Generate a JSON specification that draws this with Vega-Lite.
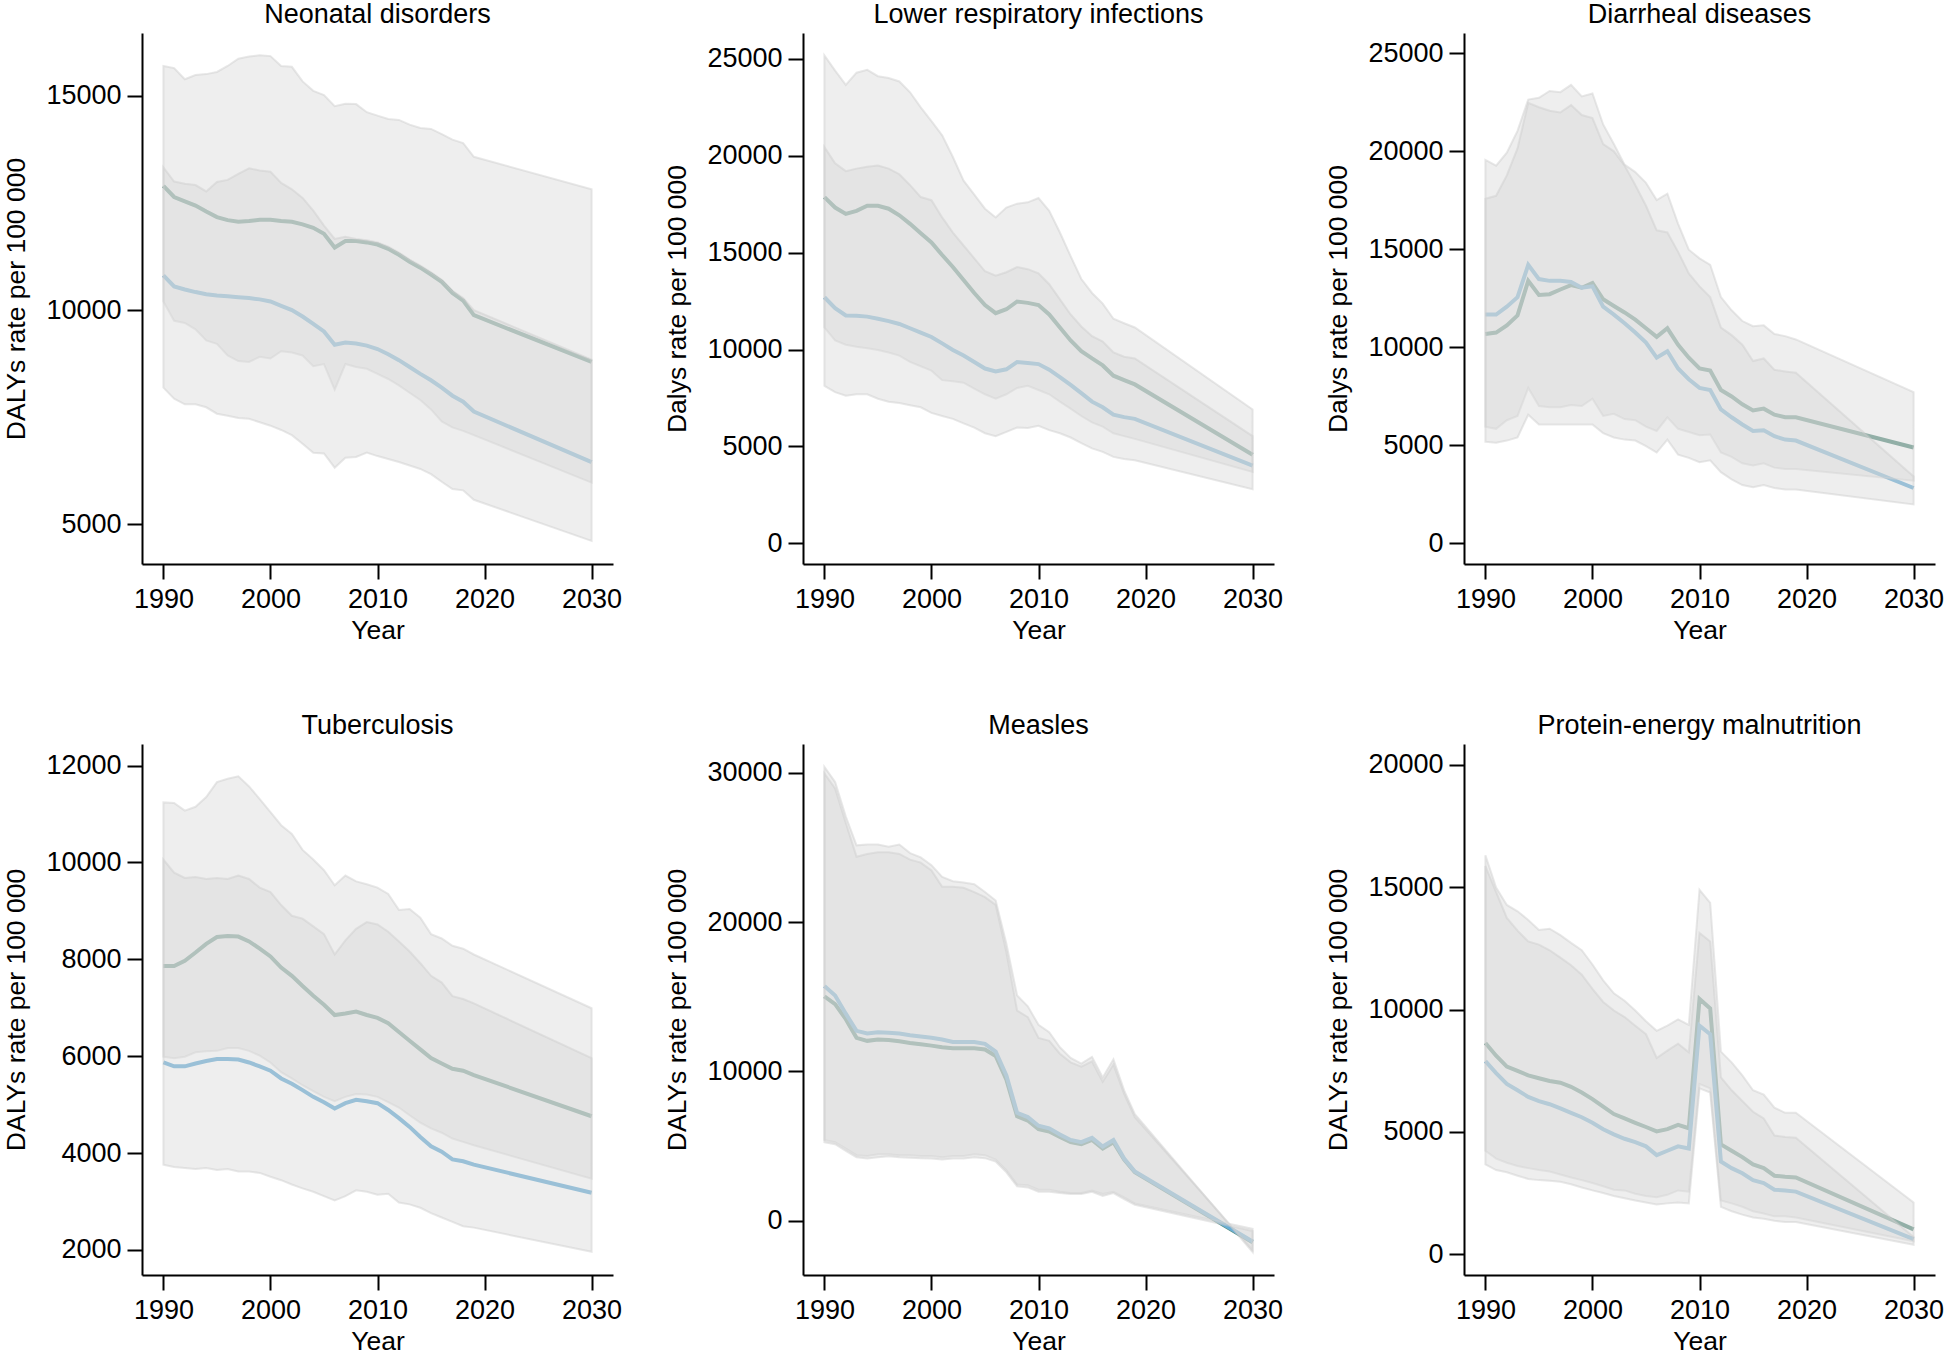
{
"$schema": "https://vega.github.io/schema/vega-lite/v6.json",
"background": "white",
"padding": {"left": 3, "top": 0, "right": 0, "bottom": 0},
"config": {
  "font": "Liberation Sans",
  "view": {"stroke": null},
  "axis": {"domainColor": "black", "domainWidth": 2, "tickColor": "black", "tickWidth": 2, "tickSize": 15, "labelColor": "black", "labelFontSize": 27, "titleFontSize": 26.5, "titleFontWeight": "normal", "titleColor": "black", "grid": false},
  "axisX": {"labelPadding": 7, "titlePadding": 5},
  "axisY": {"labelPadding": 6, "titlePadding": 15, "labelAngle": 0},
  "title": {"fontSize": 27, "fontWeight": "normal", "color": "black", "anchor": "middle", "offset": 4.5, "frame": "group"}
},
"data": {"values": [
{"p":1,"s":"A","y":1990,"m":12900,"l":10200,"u":15700},
{"p":1,"s":"A","y":1991,"m":12640,"l":9750,"u":15650},
{"p":1,"s":"A","y":1992,"m":12540,"l":9700,"u":15390},
{"p":1,"s":"A","y":1993,"m":12440,"l":9550,"u":15490},
{"p":1,"s":"A","y":1994,"m":12300,"l":9290,"u":15510},
{"p":1,"s":"A","y":1995,"m":12170,"l":9210,"u":15560},
{"p":1,"s":"A","y":1996,"m":12100,"l":8940,"u":15700},
{"p":1,"s":"A","y":1997,"m":12060,"l":8810,"u":15870},
{"p":1,"s":"A","y":1998,"m":12080,"l":8790,"u":15920},
{"p":1,"s":"A","y":1999,"m":12110,"l":8910,"u":15950},
{"p":1,"s":"A","y":2000,"m":12110,"l":8870,"u":15930},
{"p":1,"s":"A","y":2001,"m":12080,"l":9040,"u":15700},
{"p":1,"s":"A","y":2002,"m":12060,"l":9010,"u":15680},
{"p":1,"s":"A","y":2003,"m":12000,"l":8940,"u":15340},
{"p":1,"s":"A","y":2004,"m":11920,"l":8690,"u":15120},
{"p":1,"s":"A","y":2005,"m":11780,"l":8740,"u":15020},
{"p":1,"s":"A","y":2006,"m":11460,"l":8140,"u":14760},
{"p":1,"s":"A","y":2007,"m":11610,"l":8740,"u":14820},
{"p":1,"s":"A","y":2008,"m":11610,"l":8670,"u":14810},
{"p":1,"s":"A","y":2009,"m":11580,"l":8630,"u":14620},
{"p":1,"s":"A","y":2010,"m":11530,"l":8510,"u":14540},
{"p":1,"s":"A","y":2011,"m":11430,"l":8390,"u":14460},
{"p":1,"s":"A","y":2012,"m":11290,"l":8240,"u":14440},
{"p":1,"s":"A","y":2013,"m":11130,"l":8070,"u":14330},
{"p":1,"s":"A","y":2014,"m":10990,"l":7900,"u":14250},
{"p":1,"s":"A","y":2015,"m":10830,"l":7680,"u":14230},
{"p":1,"s":"A","y":2016,"m":10660,"l":7400,"u":14110},
{"p":1,"s":"A","y":2017,"m":10400,"l":7260,"u":13980},
{"p":1,"s":"A","y":2018,"m":10220,"l":7180,"u":13900},
{"p":1,"s":"A","y":2019,"m":9880,"l":7080,"u":13580},
{"p":1,"s":"A","y":2030,"m":8790,"l":5970,"u":12820},
{"p":1,"s":"B","y":1990,"m":10810,"l":8190,"u":13330},
{"p":1,"s":"B","y":1991,"m":10550,"l":7930,"u":13000},
{"p":1,"s":"B","y":1992,"m":10480,"l":7800,"u":12950},
{"p":1,"s":"B","y":1993,"m":10420,"l":7800,"u":12920},
{"p":1,"s":"B","y":1994,"m":10370,"l":7730,"u":12770},
{"p":1,"s":"B","y":1995,"m":10340,"l":7580,"u":12990},
{"p":1,"s":"B","y":1996,"m":10320,"l":7530,"u":13040},
{"p":1,"s":"B","y":1997,"m":10300,"l":7480,"u":13180},
{"p":1,"s":"B","y":1998,"m":10280,"l":7460,"u":13310},
{"p":1,"s":"B","y":1999,"m":10250,"l":7380,"u":13260},
{"p":1,"s":"B","y":2000,"m":10200,"l":7300,"u":13230},
{"p":1,"s":"B","y":2001,"m":10100,"l":7200,"u":12970},
{"p":1,"s":"B","y":2002,"m":10000,"l":7080,"u":12820},
{"p":1,"s":"B","y":2003,"m":9850,"l":6880,"u":12620},
{"p":1,"s":"B","y":2004,"m":9680,"l":6670,"u":12320},
{"p":1,"s":"B","y":2005,"m":9500,"l":6650,"u":11970},
{"p":1,"s":"B","y":2006,"m":9190,"l":6320,"u":11660},
{"p":1,"s":"B","y":2007,"m":9240,"l":6550,"u":11710},
{"p":1,"s":"B","y":2008,"m":9220,"l":6570,"u":11660},
{"p":1,"s":"B","y":2009,"m":9170,"l":6670,"u":11630},
{"p":1,"s":"B","y":2010,"m":9090,"l":6590,"u":11580},
{"p":1,"s":"B","y":2011,"m":8970,"l":6520,"u":11480},
{"p":1,"s":"B","y":2012,"m":8830,"l":6450,"u":11340},
{"p":1,"s":"B","y":2013,"m":8670,"l":6370,"u":11180},
{"p":1,"s":"B","y":2014,"m":8510,"l":6290,"u":11040},
{"p":1,"s":"B","y":2015,"m":8360,"l":6170,"u":10880},
{"p":1,"s":"B","y":2016,"m":8190,"l":5990,"u":10710},
{"p":1,"s":"B","y":2017,"m":8000,"l":5820,"u":10450},
{"p":1,"s":"B","y":2018,"m":7860,"l":5790,"u":10280},
{"p":1,"s":"B","y":2019,"m":7630,"l":5570,"u":10000},
{"p":1,"s":"B","y":2030,"m":6450,"l":4610,"u":8840},
{"p":2,"s":"A","y":1990,"m":17870,"l":11140,"u":25180},
{"p":2,"s":"A","y":1991,"m":17330,"l":10470,"u":24400},
{"p":2,"s":"A","y":1992,"m":17000,"l":10250,"u":23660},
{"p":2,"s":"A","y":1993,"m":17160,"l":10140,"u":24290},
{"p":2,"s":"A","y":1994,"m":17420,"l":10070,"u":24440},
{"p":2,"s":"A","y":1995,"m":17420,"l":9980,"u":24110},
{"p":2,"s":"A","y":1996,"m":17270,"l":9850,"u":24020},
{"p":2,"s":"A","y":1997,"m":16930,"l":9690,"u":23840},
{"p":2,"s":"A","y":1998,"m":16490,"l":9360,"u":23280},
{"p":2,"s":"A","y":1999,"m":16000,"l":9140,"u":22500},
{"p":2,"s":"A","y":2000,"m":15530,"l":8910,"u":21790},
{"p":2,"s":"A","y":2001,"m":14880,"l":8420,"u":21060},
{"p":2,"s":"A","y":2002,"m":14260,"l":8360,"u":19940},
{"p":2,"s":"A","y":2003,"m":13590,"l":8290,"u":18720},
{"p":2,"s":"A","y":2004,"m":12920,"l":7980,"u":18000},
{"p":2,"s":"A","y":2005,"m":12300,"l":7690,"u":17270},
{"p":2,"s":"A","y":2006,"m":11880,"l":7460,"u":16820},
{"p":2,"s":"A","y":2007,"m":12080,"l":7690,"u":17330},
{"p":2,"s":"A","y":2008,"m":12480,"l":8020,"u":17530},
{"p":2,"s":"A","y":2009,"m":12410,"l":8130,"u":17600},
{"p":2,"s":"A","y":2010,"m":12300,"l":7910,"u":17820},
{"p":2,"s":"A","y":2011,"m":11810,"l":7690,"u":17160},
{"p":2,"s":"A","y":2012,"m":11140,"l":7310,"u":16040},
{"p":2,"s":"A","y":2013,"m":10470,"l":6950,"u":14820},
{"p":2,"s":"A","y":2014,"m":9920,"l":6570,"u":13640},
{"p":2,"s":"A","y":2015,"m":9540,"l":6240,"u":12920},
{"p":2,"s":"A","y":2016,"m":9180,"l":6020,"u":12370},
{"p":2,"s":"A","y":2017,"m":8650,"l":5680,"u":11590},
{"p":2,"s":"A","y":2018,"m":8420,"l":5530,"u":11360},
{"p":2,"s":"A","y":2019,"m":8200,"l":5390,"u":11140},
{"p":2,"s":"A","y":2030,"m":4570,"l":3680,"u":6910},
{"p":2,"s":"B","y":1990,"m":12700,"l":8130,"u":20450},
{"p":2,"s":"B","y":1991,"m":12140,"l":7800,"u":19610},
{"p":2,"s":"B","y":1992,"m":11760,"l":7620,"u":19210},
{"p":2,"s":"B","y":1993,"m":11740,"l":7690,"u":19340},
{"p":2,"s":"B","y":1994,"m":11700,"l":7690,"u":19430},
{"p":2,"s":"B","y":1995,"m":11590,"l":7460,"u":19500},
{"p":2,"s":"B","y":1996,"m":11470,"l":7310,"u":19340},
{"p":2,"s":"B","y":1997,"m":11320,"l":7240,"u":19050},
{"p":2,"s":"B","y":1998,"m":11100,"l":7130,"u":18490},
{"p":2,"s":"B","y":1999,"m":10870,"l":7020,"u":17870},
{"p":2,"s":"B","y":2000,"m":10650,"l":6730,"u":17710},
{"p":2,"s":"B","y":2001,"m":10320,"l":6570,"u":16820},
{"p":2,"s":"B","y":2002,"m":9980,"l":6420,"u":16040},
{"p":2,"s":"B","y":2003,"m":9690,"l":6190,"u":15370},
{"p":2,"s":"B","y":2004,"m":9360,"l":5970,"u":14710},
{"p":2,"s":"B","y":2005,"m":9020,"l":5680,"u":14040},
{"p":2,"s":"B","y":2006,"m":8870,"l":5530,"u":13810},
{"p":2,"s":"B","y":2007,"m":8980,"l":5750,"u":13990},
{"p":2,"s":"B","y":2008,"m":9360,"l":5970,"u":14260},
{"p":2,"s":"B","y":2009,"m":9310,"l":5950,"u":14150},
{"p":2,"s":"B","y":2010,"m":9250,"l":6060,"u":13930},
{"p":2,"s":"B","y":2011,"m":8960,"l":5840,"u":13370},
{"p":2,"s":"B","y":2012,"m":8580,"l":5680,"u":12590},
{"p":2,"s":"B","y":2013,"m":8180,"l":5460,"u":11810},
{"p":2,"s":"B","y":2014,"m":7750,"l":5170,"u":11190},
{"p":2,"s":"B","y":2015,"m":7310,"l":4900,"u":10690},
{"p":2,"s":"B","y":2016,"m":7020,"l":4720,"u":10410},
{"p":2,"s":"B","y":2017,"m":6640,"l":4460,"u":9850},
{"p":2,"s":"B","y":2018,"m":6510,"l":4350,"u":9630},
{"p":2,"s":"B","y":2019,"m":6420,"l":4280,"u":9540},
{"p":2,"s":"B","y":2030,"m":4010,"l":2790,"u":5530},
{"p":3,"s":"A","y":1990,"m":10680,"l":5950,"u":19560},
{"p":3,"s":"A","y":1991,"m":10750,"l":5840,"u":19270},
{"p":3,"s":"A","y":1992,"m":11120,"l":6280,"u":19930},
{"p":3,"s":"A","y":1993,"m":11630,"l":6500,"u":21040},
{"p":3,"s":"A","y":1994,"m":13390,"l":7930,"u":22640},
{"p":3,"s":"A","y":1995,"m":12670,"l":7000,"u":22730},
{"p":3,"s":"A","y":1996,"m":12710,"l":6940,"u":23080},
{"p":3,"s":"A","y":1997,"m":12950,"l":6940,"u":23020},
{"p":3,"s":"A","y":1998,"m":13170,"l":7050,"u":23390},
{"p":3,"s":"A","y":1999,"m":13040,"l":7000,"u":22800},
{"p":3,"s":"A","y":2000,"m":13280,"l":7380,"u":22950},
{"p":3,"s":"A","y":2001,"m":12450,"l":6500,"u":21370},
{"p":3,"s":"A","y":2002,"m":12110,"l":6610,"u":20370},
{"p":3,"s":"A","y":2003,"m":11780,"l":6340,"u":19320},
{"p":3,"s":"A","y":2004,"m":11410,"l":6280,"u":18940},
{"p":3,"s":"A","y":2005,"m":10970,"l":5950,"u":18390},
{"p":3,"s":"A","y":2006,"m":10530,"l":5730,"u":17510},
{"p":3,"s":"A","y":2007,"m":10970,"l":6430,"u":17840},
{"p":3,"s":"A","y":2008,"m":10130,"l":5840,"u":16300},
{"p":3,"s":"A","y":2009,"m":9470,"l":5680,"u":14980},
{"p":3,"s":"A","y":2010,"m":8920,"l":5510,"u":14540},
{"p":3,"s":"A","y":2011,"m":8810,"l":5550,"u":14210},
{"p":3,"s":"A","y":2012,"m":7820,"l":4630,"u":12560},
{"p":3,"s":"A","y":2013,"m":7490,"l":4410,"u":11890},
{"p":3,"s":"A","y":2014,"m":7090,"l":4080,"u":11340},
{"p":3,"s":"A","y":2015,"m":6780,"l":3970,"u":11080},
{"p":3,"s":"A","y":2016,"m":6870,"l":4080,"u":11120},
{"p":3,"s":"A","y":2017,"m":6560,"l":3860,"u":10680},
{"p":3,"s":"A","y":2018,"m":6430,"l":3790,"u":10570},
{"p":3,"s":"A","y":2019,"m":6430,"l":3790,"u":10400},
{"p":3,"s":"A","y":2030,"m":4890,"l":3190,"u":7710},
{"p":3,"s":"B","y":1990,"m":11670,"l":5180,"u":17580},
{"p":3,"s":"B","y":1991,"m":11670,"l":5130,"u":17730},
{"p":3,"s":"B","y":1992,"m":12070,"l":5240,"u":18770},
{"p":3,"s":"B","y":1993,"m":12560,"l":5400,"u":20150},
{"p":3,"s":"B","y":1994,"m":14210,"l":6560,"u":22470},
{"p":3,"s":"B","y":1995,"m":13480,"l":6060,"u":22250},
{"p":3,"s":"B","y":1996,"m":13390,"l":6060,"u":22070},
{"p":3,"s":"B","y":1997,"m":13390,"l":6060,"u":21980},
{"p":3,"s":"B","y":1998,"m":13330,"l":6060,"u":22360},
{"p":3,"s":"B","y":1999,"m":13040,"l":6060,"u":21850},
{"p":3,"s":"B","y":2000,"m":13110,"l":6060,"u":21700},
{"p":3,"s":"B","y":2001,"m":12070,"l":5620,"u":20370},
{"p":3,"s":"B","y":2002,"m":11670,"l":5400,"u":20000},
{"p":3,"s":"B","y":2003,"m":11230,"l":5290,"u":19270},
{"p":3,"s":"B","y":2004,"m":10750,"l":5240,"u":18280},
{"p":3,"s":"B","y":2005,"m":10240,"l":4960,"u":17220},
{"p":3,"s":"B","y":2006,"m":9470,"l":4630,"u":15970},
{"p":3,"s":"B","y":2007,"m":9800,"l":5290,"u":15860},
{"p":3,"s":"B","y":2008,"m":8920,"l":4520,"u":14870},
{"p":3,"s":"B","y":2009,"m":8370,"l":4360,"u":13770},
{"p":3,"s":"B","y":2010,"m":7930,"l":4140,"u":13110},
{"p":3,"s":"B","y":2011,"m":7820,"l":4230,"u":12560},
{"p":3,"s":"B","y":2012,"m":6830,"l":3630,"u":11010},
{"p":3,"s":"B","y":2013,"m":6430,"l":3260,"u":10620},
{"p":3,"s":"B","y":2014,"m":6060,"l":2970,"u":10130},
{"p":3,"s":"B","y":2015,"m":5730,"l":2860,"u":9300},
{"p":3,"s":"B","y":2016,"m":5770,"l":2970,"u":9430},
{"p":3,"s":"B","y":2017,"m":5460,"l":2820,"u":8850},
{"p":3,"s":"B","y":2018,"m":5290,"l":2750,"u":8770},
{"p":3,"s":"B","y":2019,"m":5240,"l":2750,"u":8700},
{"p":3,"s":"B","y":2030,"m":2820,"l":1980,"u":3410},
{"p":4,"s":"A","y":1990,"m":7860,"l":5990,"u":11240},
{"p":4,"s":"A","y":1991,"m":7860,"l":5960,"u":11230},
{"p":4,"s":"A","y":1992,"m":7970,"l":5990,"u":11070},
{"p":4,"s":"A","y":1993,"m":8140,"l":6080,"u":11150},
{"p":4,"s":"A","y":1994,"m":8320,"l":6100,"u":11350},
{"p":4,"s":"A","y":1995,"m":8460,"l":6110,"u":11660},
{"p":4,"s":"A","y":1996,"m":8480,"l":6170,"u":11730},
{"p":4,"s":"A","y":1997,"m":8470,"l":6170,"u":11780},
{"p":4,"s":"A","y":1998,"m":8370,"l":6110,"u":11570},
{"p":4,"s":"A","y":1999,"m":8220,"l":6010,"u":11310},
{"p":4,"s":"A","y":2000,"m":8060,"l":5870,"u":11040},
{"p":4,"s":"A","y":2001,"m":7830,"l":5670,"u":10770},
{"p":4,"s":"A","y":2002,"m":7660,"l":5540,"u":10590},
{"p":4,"s":"A","y":2003,"m":7450,"l":5400,"u":10260},
{"p":4,"s":"A","y":2004,"m":7250,"l":5280,"u":10060},
{"p":4,"s":"A","y":2005,"m":7060,"l":5160,"u":9840},
{"p":4,"s":"A","y":2006,"m":6850,"l":5070,"u":9530},
{"p":4,"s":"A","y":2007,"m":6880,"l":5160,"u":9730},
{"p":4,"s":"A","y":2008,"m":6920,"l":5220,"u":9610},
{"p":4,"s":"A","y":2009,"m":6850,"l":5210,"u":9550},
{"p":4,"s":"A","y":2010,"m":6790,"l":5160,"u":9480},
{"p":4,"s":"A","y":2011,"m":6680,"l":5050,"u":9350},
{"p":4,"s":"A","y":2012,"m":6500,"l":4940,"u":9020},
{"p":4,"s":"A","y":2013,"m":6320,"l":4780,"u":9040},
{"p":4,"s":"A","y":2014,"m":6140,"l":4630,"u":8860},
{"p":4,"s":"A","y":2015,"m":5960,"l":4510,"u":8520},
{"p":4,"s":"A","y":2016,"m":5850,"l":4420,"u":8430},
{"p":4,"s":"A","y":2017,"m":5740,"l":4300,"u":8280},
{"p":4,"s":"A","y":2018,"m":5700,"l":4230,"u":8220},
{"p":4,"s":"A","y":2019,"m":5610,"l":4160,"u":8100},
{"p":4,"s":"A","y":2030,"m":4760,"l":3470,"u":6990},
{"p":4,"s":"B","y":1990,"m":5870,"l":3760,"u":10060},
{"p":4,"s":"B","y":1991,"m":5790,"l":3710,"u":9790},
{"p":4,"s":"B","y":1992,"m":5790,"l":3690,"u":9680},
{"p":4,"s":"B","y":1993,"m":5850,"l":3670,"u":9700},
{"p":4,"s":"B","y":1994,"m":5900,"l":3690,"u":9660},
{"p":4,"s":"B","y":1995,"m":5940,"l":3650,"u":9680},
{"p":4,"s":"B","y":1996,"m":5940,"l":3670,"u":9660},
{"p":4,"s":"B","y":1997,"m":5930,"l":3620,"u":9730},
{"p":4,"s":"B","y":1998,"m":5870,"l":3620,"u":9660},
{"p":4,"s":"B","y":1999,"m":5790,"l":3590,"u":9480},
{"p":4,"s":"B","y":2000,"m":5700,"l":3510,"u":9390},
{"p":4,"s":"B","y":2001,"m":5540,"l":3440,"u":9120},
{"p":4,"s":"B","y":2002,"m":5430,"l":3350,"u":8900},
{"p":4,"s":"B","y":2003,"m":5300,"l":3270,"u":8840},
{"p":4,"s":"B","y":2004,"m":5160,"l":3200,"u":8680},
{"p":4,"s":"B","y":2005,"m":5050,"l":3110,"u":8520},
{"p":4,"s":"B","y":2006,"m":4920,"l":3020,"u":8100},
{"p":4,"s":"B","y":2007,"m":5030,"l":3110,"u":8390},
{"p":4,"s":"B","y":2008,"m":5100,"l":3230,"u":8630},
{"p":4,"s":"B","y":2009,"m":5070,"l":3200,"u":8770},
{"p":4,"s":"B","y":2010,"m":5030,"l":3140,"u":8720},
{"p":4,"s":"B","y":2011,"m":4890,"l":3160,"u":8570},
{"p":4,"s":"B","y":2012,"m":4720,"l":2980,"u":8370},
{"p":4,"s":"B","y":2013,"m":4540,"l":2940,"u":8160},
{"p":4,"s":"B","y":2014,"m":4330,"l":2870,"u":7920},
{"p":4,"s":"B","y":2015,"m":4140,"l":2760,"u":7660},
{"p":4,"s":"B","y":2016,"m":4030,"l":2670,"u":7520},
{"p":4,"s":"B","y":2017,"m":3870,"l":2580,"u":7240},
{"p":4,"s":"B","y":2018,"m":3830,"l":2490,"u":7180},
{"p":4,"s":"B","y":2019,"m":3760,"l":2460,"u":7090},
{"p":4,"s":"B","y":2030,"m":3180,"l":1960,"u":5960},
{"p":5,"s":"A","y":1990,"m":15030,"l":5410,"u":30410},
{"p":5,"s":"A","y":1991,"m":14510,"l":5260,"u":29390},
{"p":5,"s":"A","y":1992,"m":13500,"l":4830,"u":27080},
{"p":5,"s":"A","y":1993,"m":12250,"l":4390,"u":25150},
{"p":5,"s":"A","y":1994,"m":12050,"l":4340,"u":25200},
{"p":5,"s":"A","y":1995,"m":12140,"l":4450,"u":25200},
{"p":5,"s":"A","y":1996,"m":12110,"l":4450,"u":25060},
{"p":5,"s":"A","y":1997,"m":12020,"l":4390,"u":25200},
{"p":5,"s":"A","y":1998,"m":11910,"l":4390,"u":24630},
{"p":5,"s":"A","y":1999,"m":11820,"l":4340,"u":24340},
{"p":5,"s":"A","y":2000,"m":11730,"l":4340,"u":23820},
{"p":5,"s":"A","y":2001,"m":11620,"l":4250,"u":23040},
{"p":5,"s":"A","y":2002,"m":11560,"l":4340,"u":22750},
{"p":5,"s":"A","y":2003,"m":11560,"l":4340,"u":22660},
{"p":5,"s":"A","y":2004,"m":11560,"l":4450,"u":22540},
{"p":5,"s":"A","y":2005,"m":11470,"l":4390,"u":22020},
{"p":5,"s":"A","y":2006,"m":11040,"l":4100,"u":21450},
{"p":5,"s":"A","y":2007,"m":9450,"l":3380,"u":18560},
{"p":5,"s":"A","y":2008,"m":6990,"l":2430,"u":15090},
{"p":5,"s":"A","y":2009,"m":6710,"l":2370,"u":14360},
{"p":5,"s":"A","y":2010,"m":6130,"l":2080,"u":13120},
{"p":5,"s":"A","y":2011,"m":5980,"l":2080,"u":12630},
{"p":5,"s":"A","y":2012,"m":5610,"l":1940,"u":11620},
{"p":5,"s":"A","y":2013,"m":5260,"l":1850,"u":10900},
{"p":5,"s":"A","y":2014,"m":5120,"l":1850,"u":10520},
{"p":5,"s":"A","y":2015,"m":5410,"l":2020,"u":10980},
{"p":5,"s":"A","y":2016,"m":4830,"l":1790,"u":9600},
{"p":5,"s":"A","y":2017,"m":5260,"l":1940,"u":10810},
{"p":5,"s":"A","y":2018,"m":4100,"l":1560,"u":8730},
{"p":5,"s":"A","y":2019,"m":3240,"l":1160,"u":7140},
{"p":5,"s":"A","y":2030,"m":-1450,"l":-550,"u":-2100},
{"p":5,"s":"B","y":1990,"m":15720,"l":5260,"u":29970},
{"p":5,"s":"B","y":1991,"m":15090,"l":5120,"u":28960},
{"p":5,"s":"B","y":1992,"m":13870,"l":4680,"u":26650},
{"p":5,"s":"B","y":1993,"m":12720,"l":4250,"u":24390},
{"p":5,"s":"B","y":1994,"m":12540,"l":4160,"u":24570},
{"p":5,"s":"B","y":1995,"m":12630,"l":4250,"u":24680},
{"p":5,"s":"B","y":1996,"m":12600,"l":4310,"u":24680},
{"p":5,"s":"B","y":1997,"m":12540,"l":4250,"u":24570},
{"p":5,"s":"B","y":1998,"m":12430,"l":4220,"u":24190},
{"p":5,"s":"B","y":1999,"m":12340,"l":4190,"u":23990},
{"p":5,"s":"B","y":2000,"m":12250,"l":4160,"u":23470},
{"p":5,"s":"B","y":2001,"m":12140,"l":4100,"u":22370},
{"p":5,"s":"B","y":2002,"m":11970,"l":4160,"u":22370},
{"p":5,"s":"B","y":2003,"m":11970,"l":4160,"u":22310},
{"p":5,"s":"B","y":2004,"m":11970,"l":4250,"u":22020},
{"p":5,"s":"B","y":2005,"m":11850,"l":4190,"u":21680},
{"p":5,"s":"B","y":2006,"m":11330,"l":3960,"u":21160},
{"p":5,"s":"B","y":2007,"m":9740,"l":3240,"u":18000},
{"p":5,"s":"B","y":2008,"m":7230,"l":2310,"u":14080},
{"p":5,"s":"B","y":2009,"m":6940,"l":2230,"u":13640},
{"p":5,"s":"B","y":2010,"m":6360,"l":1940,"u":12250},
{"p":5,"s":"B","y":2011,"m":6190,"l":1940,"u":12050},
{"p":5,"s":"B","y":2012,"m":5780,"l":1850,"u":11190},
{"p":5,"s":"B","y":2013,"m":5410,"l":1790,"u":10610},
{"p":5,"s":"B","y":2014,"m":5260,"l":1790,"u":10320},
{"p":5,"s":"B","y":2015,"m":5550,"l":1940,"u":10670},
{"p":5,"s":"B","y":2016,"m":4970,"l":1650,"u":9310},
{"p":5,"s":"B","y":2017,"m":5410,"l":1850,"u":10460},
{"p":5,"s":"B","y":2018,"m":4160,"l":1450,"u":8500},
{"p":5,"s":"B","y":2019,"m":3300,"l":1070,"u":6940},
{"p":5,"s":"B","y":2030,"m":-1390,"l":-700,"u":-1970},
{"p":6,"s":"A","y":1990,"m":8630,"l":4230,"u":16300},
{"p":6,"s":"A","y":1991,"m":8110,"l":3910,"u":14980},
{"p":6,"s":"A","y":1992,"m":7670,"l":3740,"u":14270},
{"p":6,"s":"A","y":1993,"m":7490,"l":3610,"u":14010},
{"p":6,"s":"A","y":1994,"m":7310,"l":3520,"u":13660},
{"p":6,"s":"A","y":1995,"m":7190,"l":3440,"u":13250},
{"p":6,"s":"A","y":1996,"m":7080,"l":3380,"u":13300},
{"p":6,"s":"A","y":1997,"m":7010,"l":3260,"u":13040},
{"p":6,"s":"A","y":1998,"m":6840,"l":3140,"u":12720},
{"p":6,"s":"A","y":1999,"m":6610,"l":3030,"u":12420},
{"p":6,"s":"A","y":2000,"m":6340,"l":2910,"u":11840},
{"p":6,"s":"A","y":2001,"m":6030,"l":2780,"u":11190},
{"p":6,"s":"A","y":2002,"m":5730,"l":2640,"u":10660},
{"p":6,"s":"A","y":2003,"m":5550,"l":2610,"u":10360},
{"p":6,"s":"A","y":2004,"m":5370,"l":2470,"u":9960},
{"p":6,"s":"A","y":2005,"m":5200,"l":2380,"u":9520},
{"p":6,"s":"A","y":2006,"m":5020,"l":2330,"u":9130},
{"p":6,"s":"A","y":2007,"m":5110,"l":2430,"u":9340},
{"p":6,"s":"A","y":2008,"m":5290,"l":2610,"u":9600},
{"p":6,"s":"A","y":2009,"m":5150,"l":2560,"u":9370},
{"p":6,"s":"A","y":2010,"m":10430,"l":6960,"u":14890},
{"p":6,"s":"A","y":2011,"m":10040,"l":6780,"u":14360},
{"p":6,"s":"A","y":2012,"m":4490,"l":2200,"u":8280},
{"p":6,"s":"A","y":2013,"m":4230,"l":2080,"u":7840},
{"p":6,"s":"A","y":2014,"m":3970,"l":1940,"u":7310},
{"p":6,"s":"A","y":2015,"m":3670,"l":1760,"u":6700},
{"p":6,"s":"A","y":2016,"m":3520,"l":1670,"u":6520},
{"p":6,"s":"A","y":2017,"m":3210,"l":1550,"u":5990},
{"p":6,"s":"A","y":2018,"m":3170,"l":1550,"u":5780},
{"p":6,"s":"A","y":2019,"m":3140,"l":1500,"u":5780},
{"p":6,"s":"A","y":2030,"m":1020,"l":530,"u":2120},
{"p":6,"s":"B","y":1990,"m":7890,"l":3670,"u":15860},
{"p":6,"s":"B","y":1991,"m":7400,"l":3440,"u":14800},
{"p":6,"s":"B","y":1992,"m":6960,"l":3350,"u":13740},
{"p":6,"s":"B","y":1993,"m":6700,"l":3210,"u":13220},
{"p":6,"s":"B","y":1994,"m":6430,"l":3080,"u":12780},
{"p":6,"s":"B","y":1995,"m":6260,"l":3030,"u":12650},
{"p":6,"s":"B","y":1996,"m":6130,"l":3000,"u":12420},
{"p":6,"s":"B","y":1997,"m":5960,"l":2960,"u":12120},
{"p":6,"s":"B","y":1998,"m":5780,"l":2860,"u":11810},
{"p":6,"s":"B","y":1999,"m":5600,"l":2730,"u":11420},
{"p":6,"s":"B","y":2000,"m":5370,"l":2610,"u":10840},
{"p":6,"s":"B","y":2001,"m":5110,"l":2500,"u":10310},
{"p":6,"s":"B","y":2002,"m":4900,"l":2380,"u":9960},
{"p":6,"s":"B","y":2003,"m":4720,"l":2290,"u":9690},
{"p":6,"s":"B","y":2004,"m":4580,"l":2200,"u":9340},
{"p":6,"s":"B","y":2005,"m":4410,"l":2120,"u":8990},
{"p":6,"s":"B","y":2006,"m":4050,"l":2030,"u":8020},
{"p":6,"s":"B","y":2007,"m":4230,"l":2080,"u":8320},
{"p":6,"s":"B","y":2008,"m":4410,"l":2120,"u":8600},
{"p":6,"s":"B","y":2009,"m":4320,"l":2080,"u":8250},
{"p":6,"s":"B","y":2010,"m":9340,"l":6780,"u":13130},
{"p":6,"s":"B","y":2011,"m":8990,"l":6610,"u":12780},
{"p":6,"s":"B","y":2012,"m":3790,"l":1940,"u":7230},
{"p":6,"s":"B","y":2013,"m":3520,"l":1760,"u":6700},
{"p":6,"s":"B","y":2014,"m":3310,"l":1620,"u":6260},
{"p":6,"s":"B","y":2015,"m":3030,"l":1500,"u":5820},
{"p":6,"s":"B","y":2016,"m":2910,"l":1450,"u":5550},
{"p":6,"s":"B","y":2017,"m":2640,"l":1370,"u":4850},
{"p":6,"s":"B","y":2018,"m":2610,"l":1320,"u":4790},
{"p":6,"s":"B","y":2019,"m":2560,"l":1320,"u":4760},
{"p":6,"s":"B","y":2030,"m":620,"l":390,"u":710}
]},
"columns": 3,
"bounds": "flush",
"spacing": {"row": 180, "column": 190},
"concat": [
{"title": "Neonatal disorders", "width": 471, "height": 531,
 "transform": [{"filter": "datum.p == 1"}],
 "encoding": {"x": {"field": "y", "type": "quantitative", "title": "Year", "scale": {"domain": [1988, 2032], "nice": false, "zero": false}, "axis": {"values": [1990, 2000, 2010, 2020, 2030], "format": "d"}}},
 "layer": [
  {"mark": {"type": "line", "strokeWidth": 4}, "encoding": {"y": {"field": "m", "type": "quantitative", "title": "DALYs rate per 100 000", "scale": {"domain": [4070, 16470], "nice": false, "zero": false}, "axis": {"values": [5000, 10000, 15000], "format": "d"}}, "color": {"field": "s", "type": "nominal", "scale": {"domain": ["A", "B"], "range": ["#5b8f80", "#6aaed6"]}, "legend": null}}},
  {"mark": {"type": "area", "fill": "#d9d9d9", "fillOpacity": 0.44, "stroke": "#cccccc", "strokeOpacity": 0.45, "strokeWidth": 2}, "encoding": {"y": {"field": "l", "type": "quantitative", "title": "DALYs rate per 100 000"}, "y2": {"field": "u"}, "detail": {"field": "s"}}}
 ]},
{"title": "Lower respiratory infections", "width": 471, "height": 531,
 "transform": [{"filter": "datum.p == 2"}],
 "encoding": {"x": {"field": "y", "type": "quantitative", "title": "Year", "scale": {"domain": [1988, 2032], "nice": false, "zero": false}, "axis": {"values": [1990, 2000, 2010, 2020, 2030], "format": "d"}}},
 "layer": [
  {"mark": {"type": "line", "strokeWidth": 4}, "encoding": {"y": {"field": "m", "type": "quantitative", "title": "Dalys rate per 100 000", "scale": {"domain": [-1070, 26340], "nice": false, "zero": false}, "axis": {"values": [0, 5000, 10000, 15000, 20000, 25000], "format": "d"}}, "color": {"field": "s", "type": "nominal", "scale": {"domain": ["A", "B"], "range": ["#5b8f80", "#6aaed6"]}, "legend": null}}},
  {"mark": {"type": "area", "fill": "#d9d9d9", "fillOpacity": 0.44, "stroke": "#cccccc", "strokeOpacity": 0.45, "strokeWidth": 2}, "encoding": {"y": {"field": "l", "type": "quantitative", "title": "Dalys rate per 100 000"}, "y2": {"field": "u"}, "detail": {"field": "s"}}}
 ]},
{"title": "Diarrheal diseases", "width": 471, "height": 531,
 "transform": [{"filter": "datum.p == 3"}],
 "encoding": {"x": {"field": "y", "type": "quantitative", "title": "Year", "scale": {"domain": [1988, 2032], "nice": false, "zero": false}, "axis": {"values": [1990, 2000, 2010, 2020, 2030], "format": "d"}}},
 "layer": [
  {"mark": {"type": "line", "strokeWidth": 4}, "encoding": {"y": {"field": "m", "type": "quantitative", "title": "Dalys rate per 100 000", "scale": {"domain": [-1057, 26037], "nice": false, "zero": false}, "axis": {"values": [0, 5000, 10000, 15000, 20000, 25000], "format": "d"}}, "color": {"field": "s", "type": "nominal", "scale": {"domain": ["A", "B"], "range": ["#5b8f80", "#6aaed6"]}, "legend": null}}},
  {"mark": {"type": "area", "fill": "#d9d9d9", "fillOpacity": 0.44, "stroke": "#cccccc", "strokeOpacity": 0.45, "strokeWidth": 2}, "encoding": {"y": {"field": "l", "type": "quantitative", "title": "Dalys rate per 100 000"}, "y2": {"field": "u"}, "detail": {"field": "s"}}}
 ]},
{"title": "Tuberculosis", "width": 471, "height": 531,
 "transform": [{"filter": "datum.p == 4"}],
 "encoding": {"x": {"field": "y", "type": "quantitative", "title": "Year", "scale": {"domain": [1988, 2032], "nice": false, "zero": false}, "axis": {"values": [1990, 2000, 2010, 2020, 2030], "format": "d"}}},
 "layer": [
  {"mark": {"type": "line", "strokeWidth": 4}, "encoding": {"y": {"field": "m", "type": "quantitative", "title": "DALYs rate per 100 000", "scale": {"domain": [1482, 12446], "nice": false, "zero": false}, "axis": {"values": [2000, 4000, 6000, 8000, 10000, 12000], "format": "d"}}, "color": {"field": "s", "type": "nominal", "scale": {"domain": ["A", "B"], "range": ["#5b8f80", "#6aaed6"]}, "legend": null}}},
  {"mark": {"type": "area", "fill": "#d9d9d9", "fillOpacity": 0.44, "stroke": "#cccccc", "strokeOpacity": 0.45, "strokeWidth": 2}, "encoding": {"y": {"field": "l", "type": "quantitative", "title": "DALYs rate per 100 000"}, "y2": {"field": "u"}, "detail": {"field": "s"}}}
 ]},
{"title": "Measles", "width": 471, "height": 531,
 "transform": [{"filter": "datum.p == 5"}],
 "encoding": {"x": {"field": "y", "type": "quantitative", "title": "Year", "scale": {"domain": [1988, 2032], "nice": false, "zero": false}, "axis": {"values": [1990, 2000, 2010, 2020, 2030], "format": "d"}}},
 "layer": [
  {"mark": {"type": "line", "strokeWidth": 4}, "encoding": {"y": {"field": "m", "type": "quantitative", "title": "DALYs rate per 100 000", "scale": {"domain": [-3640, 31940], "nice": false, "zero": false}, "axis": {"values": [0, 10000, 20000, 30000], "format": "d"}}, "color": {"field": "s", "type": "nominal", "scale": {"domain": ["A", "B"], "range": ["#5b8f80", "#6aaed6"]}, "legend": null}}},
  {"mark": {"type": "area", "fill": "#d9d9d9", "fillOpacity": 0.44, "stroke": "#cccccc", "strokeOpacity": 0.45, "strokeWidth": 2}, "encoding": {"y": {"field": "l", "type": "quantitative", "title": "DALYs rate per 100 000"}, "y2": {"field": "u"}, "detail": {"field": "s"}}}
 ]},
{"title": "Protein-energy malnutrition", "width": 471, "height": 531,
 "transform": [{"filter": "datum.p == 6"}],
 "encoding": {"x": {"field": "y", "type": "quantitative", "title": "Year", "scale": {"domain": [1988, 2032], "nice": false, "zero": false}, "axis": {"values": [1990, 2000, 2010, 2020, 2030], "format": "d"}}},
 "layer": [
  {"mark": {"type": "line", "strokeWidth": 4}, "encoding": {"y": {"field": "m", "type": "quantitative", "title": "DALYs rate per 100 000", "scale": {"domain": [-846, 20846], "nice": false, "zero": false}, "axis": {"values": [0, 5000, 10000, 15000, 20000], "format": "d"}}, "color": {"field": "s", "type": "nominal", "scale": {"domain": ["A", "B"], "range": ["#5b8f80", "#6aaed6"]}, "legend": null}}},
  {"mark": {"type": "area", "fill": "#d9d9d9", "fillOpacity": 0.44, "stroke": "#cccccc", "strokeOpacity": 0.45, "strokeWidth": 2}, "encoding": {"y": {"field": "l", "type": "quantitative", "title": "DALYs rate per 100 000"}, "y2": {"field": "u"}, "detail": {"field": "s"}}}
 ]}
]
}
